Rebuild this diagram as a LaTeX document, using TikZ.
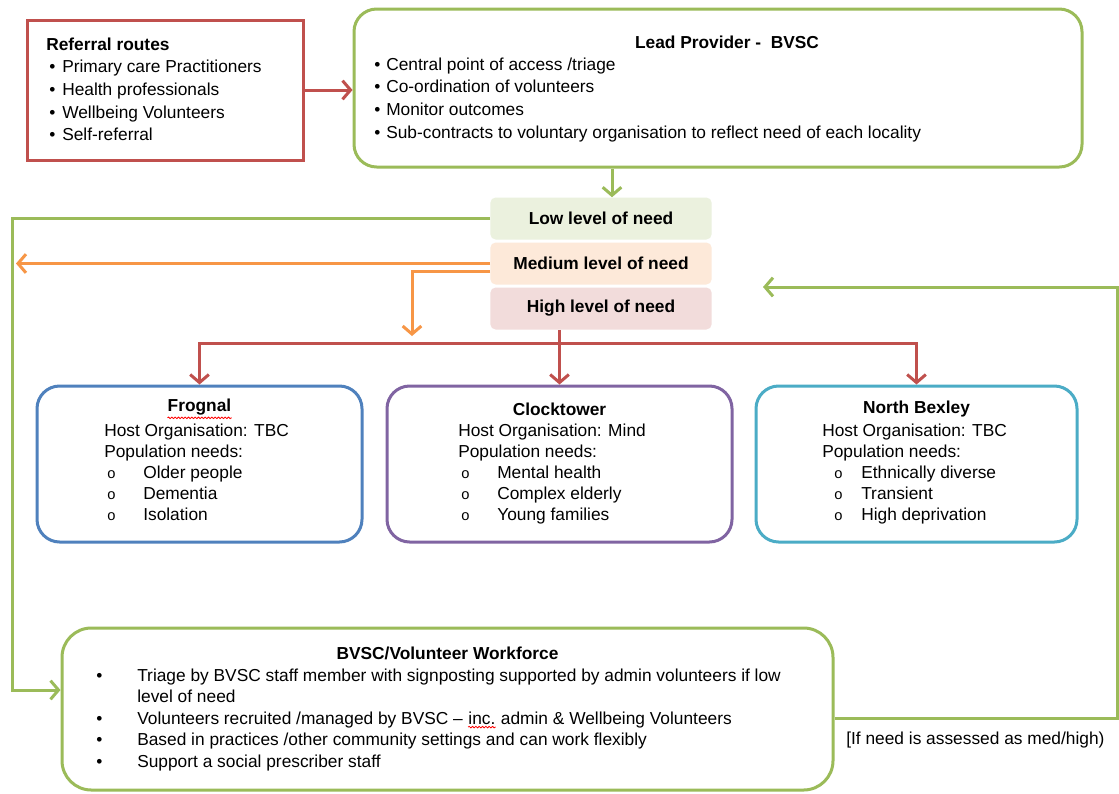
\documentclass[tikz,border=0pt]{standalone}
\usepackage{fontspec}
\setmainfont{Liberation Sans}
\usetikzlibrary{arrows.meta,fit,decorations.pathmorphing}
\definecolor{cred}{HTML}{C0504D}
\definecolor{cgreen}{HTML}{9BBB59}
\definecolor{corange}{HTML}{F79646}
\definecolor{cblue}{HTML}{4F81BD}
\definecolor{cpurple}{HTML}{8064A2}
\definecolor{cteal}{HTML}{4BACC6}
\definecolor{flow}{HTML}{EBF1DE}
\definecolor{fmed}{HTML}{FDE9D9}
\definecolor{fhigh}{HTML}{F2DCDB}
\newlength\pxu \setlength\pxu{0.75pt}
\newcommand\sq[1]{\tikz[baseline=(sqw.base)]{\node[inner sep=0pt,anchor=center,draw=none,fill=none](sqw){#1};\draw[red,line width=0.6pt,decorate,decoration={snake,amplitude=0.6pt,segment length=2.5pt}] ([yshift=-1.8pt]sqw.south west) -- ([yshift=-1.8pt]sqw.south east);}}
\newcommand\ob{{\fontsize{11}{11}\selectfont o}}
\begin{document}
\begin{tikzpicture}[x=0.75pt,y=-0.75pt,
  box/.style={draw, line width=2.25pt, inner sep=0pt},
  rbox/.style={box, rounded corners=17pt},
  txtA/.style={inner sep=0pt, anchor=north west, align=left, font=\fontsize{13}{17}\selectfont},
  txtB/.style={inner sep=0pt, anchor=north west, align=left, font=\fontsize{13}{15.75}\selectfont},
  txtC/.style={inner sep=0pt, anchor=north west, align=left, font=\fontsize{13}{16.1}\selectfont},
  ttl/.style={inner sep=0pt, font=\fontsize{13}{16}\selectfont\bfseries},
  lvl/.style={rounded corners=4pt, minimum width=166pt, minimum height=31.5pt, inner sep=0pt, font=\fontsize{13}{16}\selectfont\bfseries},
  conn/.style={line width=2.25pt},
  tip/.style={-{Straight Barb[length=6pt,width=14pt]}}
]
\useasboundingbox (0,0) rectangle (1119,793);
\fill[white] (0,0) rectangle (1119,793);

% Referral routes
\node[box, draw=cred, fit={(27,20) (303,160)}] (ref) {};
\node[txtA] (reftxt) at (46,37.5) {\textbf{Referral routes}\\
\hspace*{3\pxu}\makebox[13\pxu][l]{•}Primary care Practitioners\\
\hspace*{3\pxu}\makebox[13\pxu][l]{•}Health professionals\\
\hspace*{3\pxu}\makebox[13\pxu][l]{•}Wellbeing Volunteers\\
\hspace*{3\pxu}\makebox[13\pxu][l]{•}Self-referral};

% Lead provider
\node[rbox, draw=cgreen, fit={(354,9) (1082,167)}] (lead) {};
\node[ttl] (leadttl) at (727,42) {Lead Provider -\ \ BVSC};
\node[txtA] (leadtxt) at (374,57.5) {\makebox[12\pxu][l]{•}Central point of access /triage\\
\makebox[12\pxu][l]{•}Co-ordination of volunteers\\
\makebox[12\pxu][l]{•}Monitor outcomes\\
\makebox[12\pxu][l]{•}Sub-contracts to voluntary organisation to reflect need of each locality};

\draw[conn, draw=cred, tip] (ref.east |- 0,90) -- (lead.west |- 0,90);

% Levels
\node[lvl, fill=flow] (low) at (601,218.5) {Low level of need};
\node[lvl, fill=fmed] (med) at (601,263.5) {Medium level of need};
\node[lvl, fill=fhigh] (high) at (601,308.5) {High level of need};

\coordinate (ga) at (612,0);
\draw[conn, draw=cgreen, tip] (lead.south -| ga) -- (low.north -| ga);

% Localities
\node[rbox, draw=cblue, fit={(37,386) (362,542)}] (frog) {};
\node[rbox, draw=cpurple, fit={(387,386) (732,542)}] (clock) {};
\node[rbox, draw=cteal, fit={(756,386) (1077,542)}] (nb) {};

\node[ttl] (frogt) at (frog.north |- 0,409) {\sq{Frognal}};
\node[ttl] (clockt) at (clock.north |- 0,409) {Clocktower};
\node[ttl] (nbt) at (nb.north |- 0,409) {North Bexley};

\node[txtB] (frogb) at (104,423.5) {Host Organisation: TBC\\
Population needs:\\
\hspace*{3\pxu}\makebox[36\pxu][l]{\ob}Older people\\
\hspace*{3\pxu}\makebox[36\pxu][l]{\ob}Dementia\\
\hspace*{3\pxu}\makebox[36\pxu][l]{\ob}Isolation};
\node[txtB] (clockb) at (458,423.5) {Host Organisation: Mind\\
Population needs:\\
\hspace*{3\pxu}\makebox[36\pxu][l]{\ob}Mental health\\
\hspace*{3\pxu}\makebox[36\pxu][l]{\ob}Complex elderly\\
\hspace*{3\pxu}\makebox[36\pxu][l]{\ob}Young families};
\node[txtB] (nbb) at (822,423.5) {Host Organisation: TBC\\
Population needs:\\
\hspace*{12\pxu}\makebox[27\pxu][l]{\ob}Ethnically diverse\\
\hspace*{12\pxu}\makebox[27\pxu][l]{\ob}Transient\\
\hspace*{12\pxu}\makebox[27\pxu][l]{\ob}High deprivation};

% Workforce
\node[rbox, draw=cgreen, rounded corners=22pt, fit={(62,628) (833,790)}] (work) {};
\node[ttl] (workt) at (work.north |- 0,653) {BVSC/Volunteer Workforce};
\node[txtC] (workb) at (96,668.5) {\makebox[41\pxu][l]{•}Triage by BVSC staff member with signposting supported by admin volunteers if low\\
\hspace*{41\pxu}level of need\\
\makebox[41\pxu][l]{•}Volunteers recruited /managed by BVSC – \sq{inc.} admin \& Wellbeing Volunteers\\
\makebox[41\pxu][l]{•}Based in practices /other community settings and can work flexibly\\
\makebox[41\pxu][l]{•}Support a social prescriber staff};

% Connectors
\coordinate (gcorner) at (12,690);
\draw[conn, draw=cgreen, tip] (low.west) -| (gcorner) -- (gcorner -| work.west);

\coordinate (otip) at (16,0);
\draw[conn, draw=corange, tip] (med.west) -- (med.west -| otip);
\coordinate (odown) at (412,336);
\draw[conn, draw=corange, tip] ([yshift=-6pt]med.west) -| (odown);

\coordinate (rh) at (0,343);
\draw[conn, draw=cred, tip] (clock.north |- high.south) -- (clock.north);
\draw[conn, draw=cred, tip] (clock.north |- rh) -- (frog.north |- rh) -- (frog.north);
\draw[conn, draw=cred, tip] (clock.north |- rh) -- (nb.north |- rh) -- (nb.north);

\coordinate (r1) at (1117,718);
\coordinate (r2) at (763,287);
\draw[conn, draw=cgreen, tip] (r1 -| work.east) -- (r1) |- (r2);
\node[inner sep=0pt, anchor=west, font=\fontsize{13}{16}\selectfont] (cond) at (846,740) {[If need is assessed as med/high)};
\end{tikzpicture}
\end{document}
